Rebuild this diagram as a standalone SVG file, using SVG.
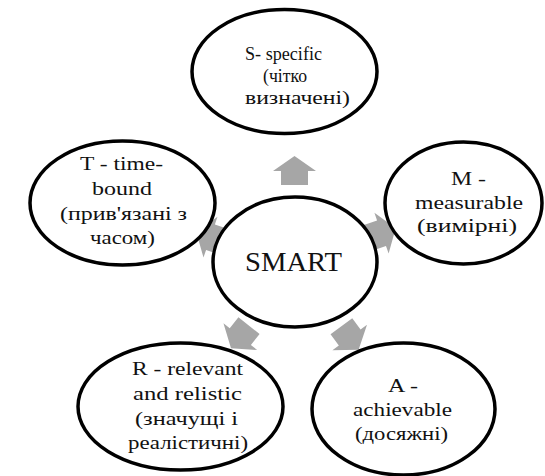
<svg xmlns="http://www.w3.org/2000/svg" width="545" height="476" viewBox="0 0 545 476">
<style>
.node ellipse{fill:#fff;stroke:#000;stroke-width:3.5}
.node text{font-family:'Liberation Serif','Times New Roman',serif;font-size:19px;fill:#111}
.arr{fill:#a6a6a6}
</style>
<defs>
<polygon id="blk" points="14.5,0 -0.5,-21.5 -0.5,-13.5 -14.5,-13.5 -14.5,13.5 -0.5,13.5 -0.5,21.5"/>
</defs>
<rect width="545" height="476" fill="#fff"/>
<g id="connectors">
<use href="#blk" class="arr" transform="translate(294.5,170.5) rotate(-90)"/>
<use href="#blk" class="arr" transform="translate(210,237) rotate(199)"/>
<use href="#blk" class="arr" transform="translate(382,233) rotate(-19.3)"/>
<use href="#blk" class="arr" transform="translate(240,337) rotate(128.4)"/>
<use href="#blk" class="arr" transform="translate(350,338) rotate(53.6)"/>
</g>
<g id="node-s" class="node">
<ellipse cx="284.5" cy="71.5" rx="92.5" ry="62"/>
<text x="245" y="60" textLength="77" lengthAdjust="spacingAndGlyphs">S- specific</text>
<text x="263" y="82" textLength="44" lengthAdjust="spacingAndGlyphs">(чітко</text>
<text x="245" y="104" textLength="105" lengthAdjust="spacingAndGlyphs">визначені)</text>
</g>
<g id="node-m" class="node">
<ellipse cx="463.5" cy="203" rx="78.5" ry="61"/>
<text x="451" y="185" textLength="35" lengthAdjust="spacingAndGlyphs">M -</text>
<text x="415" y="209" textLength="108" lengthAdjust="spacingAndGlyphs">measurable</text>
<text x="417" y="232" textLength="100" lengthAdjust="spacingAndGlyphs">(вимірні)</text>
</g>
<g id="node-t" class="node">
<ellipse cx="122.5" cy="203" rx="92.5" ry="62"/>
<text x="80" y="170" textLength="83" lengthAdjust="spacingAndGlyphs">T - time-</text>
<text x="92" y="195" textLength="60" lengthAdjust="spacingAndGlyphs">bound</text>
<text x="60" y="220" textLength="127" lengthAdjust="spacingAndGlyphs">(прив'язані з</text>
<text x="90" y="244" textLength="65" lengthAdjust="spacingAndGlyphs">часом)</text>
</g>
<g id="node-smart" class="node">
<ellipse cx="295" cy="262" rx="82" ry="65"/>
<text x="245" y="271" textLength="97" lengthAdjust="spacingAndGlyphs" style="font-size:28px">SMART</text>
</g>
<g id="node-r" class="node">
<ellipse cx="180.5" cy="406.5" rx="102.5" ry="63.5"/>
<text x="132" y="375" textLength="111" lengthAdjust="spacingAndGlyphs">R - relevant</text>
<text x="133" y="400" textLength="109" lengthAdjust="spacingAndGlyphs">and relistic</text>
<text x="135" y="425" textLength="103" lengthAdjust="spacingAndGlyphs">(значущі і</text>
<text x="128" y="449" textLength="120" lengthAdjust="spacingAndGlyphs">реалістичні)</text>
</g>
<g id="node-a" class="node">
<ellipse cx="403.5" cy="409" rx="91.5" ry="66"/>
<text x="388" y="392" textLength="30" lengthAdjust="spacingAndGlyphs">A -</text>
<text x="353" y="416" textLength="99" lengthAdjust="spacingAndGlyphs">achievable</text>
<text x="355" y="440" textLength="93" lengthAdjust="spacingAndGlyphs">(досяжні)</text>
</g>
</svg>
